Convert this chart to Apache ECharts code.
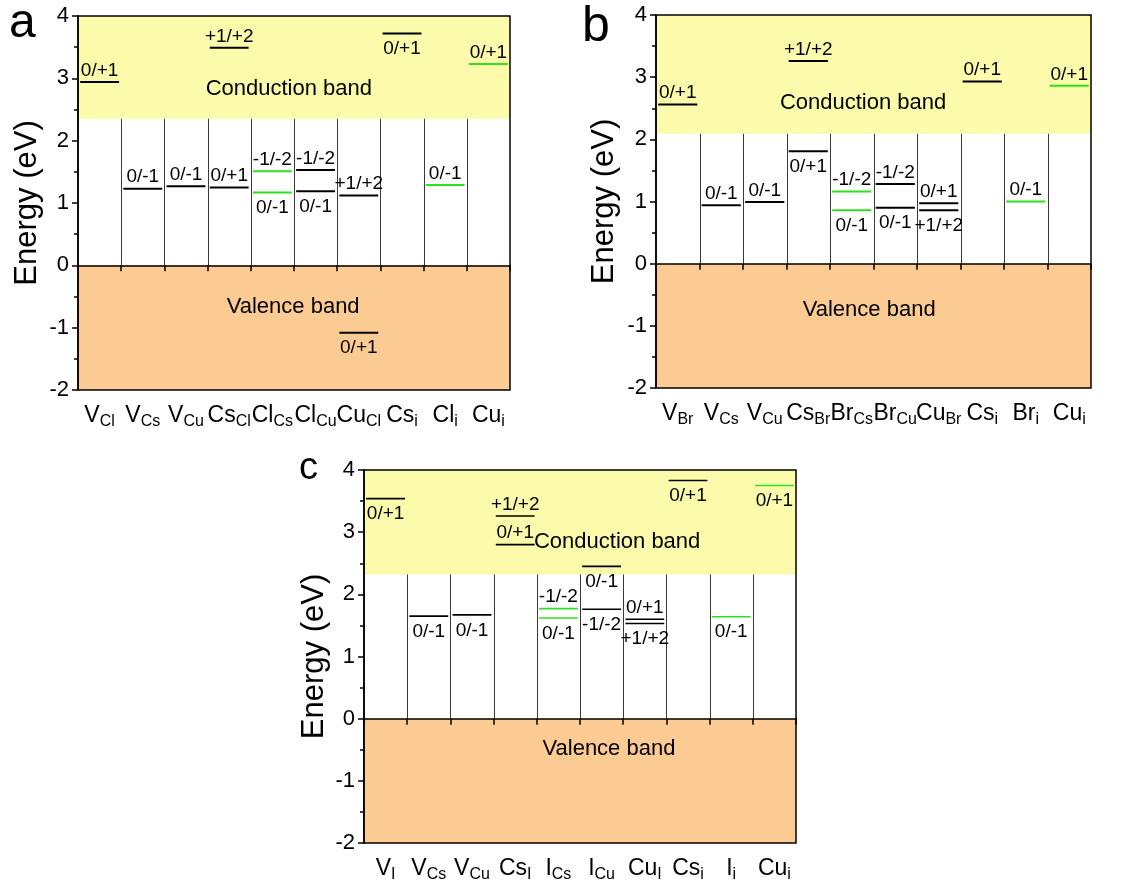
<!DOCTYPE html>
<html>
<head>
<meta charset="utf-8">
<script src="https://cdn.jsdelivr.net/npm/echarts@6/dist/echarts.min.js"></script>
<style>
  html, body { margin: 0; padding: 0; background: #fff; }
  #chart { width: 1127px; height: 886px; }
</style>
</head>
<body>
<div id="chart"></div>
<script>
// defect names: [main, subscript]
const defectsA = [['V', 'Cl'], ['V', 'Cs'], ['V', 'Cu'], ['Cs', 'Cl'], ['Cl', 'Cs'], ['Cl', 'Cu'], ['Cu', 'Cl'], ['Cs', 'i'], ['Cl', 'i'], ['Cu', 'i']]
const defectsB = [['V', 'Br'], ['V', 'Cs'], ['V', 'Cu'], ['Cs', 'Br'], ['Br', 'Cs'], ['Br', 'Cu'], ['Cu', 'Br'], ['Cs', 'i'], ['Br', 'i'], ['Cu', 'i']]
const defectsC = [['V', 'I'], ['V', 'Cs'], ['V', 'Cu'], ['Cs', 'I'], ['I', 'Cs'], ['I', 'Cu'], ['Cu', 'I'], ['Cs', 'i'], ['I', 'i'], ['Cu', 'i']]

// conduction band minimum (eV), valence band max is 0
const cbmA = 2.35
const cbmB = 2.09
const cbmC = 2.32

const yMin = -2
const yMax = 4

// transition levels: [column, energy, label, label side, green?]
const levelsA = [
  [0, 2.94, '0/+1', 'up', 0],
  [1, 1.23, '0/-1', 'up', 0],
  [2, 1.27, '0/-1', 'up', 0],
  [3, 1.25, '0/+1', 'up', 0],
  [3, 3.49, '+1/+2', 'up', 0],
  [4, 1.51, '-1/-2', 'up', 1],
  [4, 1.17, '0/-1', 'down', 1],
  [5, 1.53, '-1/-2', 'up', 0],
  [5, 1.19, '0/-1', 'down', 0],
  [6, 1.12, '+1/+2', 'up', 0],
  [6, -1.08, '0/+1', 'down', 0],
  [7, 3.72, '0/+1', 'down', 0],
  [8, 1.29, '0/-1', 'up', 1],
  [9, 3.23, '0/+1', 'up', 1]
]
const levelsB = [
  [0, 2.56, '0/+1', 'up', 0],
  [1, 0.94, '0/-1', 'up', 0],
  [2, 0.99, '0/-1', 'up', 0],
  [3, 3.26, '+1/+2', 'up', 0],
  [3, 1.81, '0/+1', 'down', 0],
  [4, 1.16, '-1/-2', 'up', 1],
  [4, 0.86, '0/-1', 'down', 1],
  [5, 1.28, '-1/-2', 'up', 0],
  [5, 0.90, '0/-1', 'down', 0],
  [6, 0.97, '0/+1', 'up', 0],
  [6, 0.86, '+1/+2', 'down', 0],
  [7, 2.93, '0/+1', 'up', 0],
  [8, 1.00, '0/-1', 'up', 1],
  [9, 2.86, '0/+1', 'up', 1]
]
const levelsC = [
  [0, 3.54, '0/+1', 'down', 0],
  [1, 1.65, '0/-1', 'down', 0],
  [2, 1.67, '0/-1', 'down', 0],
  [3, 3.26, '+1/+2', 'up', 0],
  [3, 2.80, '0/+1', 'up', 0],
  [4, 1.77, '-1/-2', 'up', 1],
  [4, 1.62, '0/-1', 'down', 1],
  [5, 2.45, '0/-1', 'down', 0],
  [5, 1.76, '-1/-2', 'down', 0],
  [6, 1.60, '0/+1', 'up', 0],
  [6, 1.53, '+1/+2', 'down', 0],
  [7, 3.83, '0/+1', 'down', 0],
  [8, 1.64, '0/-1', 'down', 1],
  [9, 3.75, '0/+1', 'down', 1]
]

// band captions: [column (fractional), energy, text]
const captionsA = [[4.38, 2.83, 'Conduction band'], [4.48, -0.66, 'Valence band']]
const captionsB = [[4.26, 2.59, 'Conduction band'], [4.40, -0.74, 'Valence band']]
const captionsC = [[5.36, 2.85, 'Conduction band'], [5.17, -0.49, 'Valence band']]

const FONT = '"Liberation Sans", Arial, sans-serif'
const CB_COLOR = '#FBFBAB'
const VB_COLOR = '#FCCB94'
const GREEN = '#2EE01E'

const panels = [
  { defects: defectsA, cbm: cbmA, levels: levelsA, captions: captionsA, grid: { left: 78, top: 16, width: 432, height: 374 }, nameGap: 35, lw: 2 },
  { defects: defectsB, cbm: cbmB, levels: levelsB, captions: captionsB, grid: { left: 656, top: 15, width: 435, height: 373 }, nameGap: 36, lw: 2 },
  { defects: defectsC, cbm: cbmC, levels: levelsC, captions: captionsC, grid: { left: 364, top: 470, width: 432, height: 373 }, nameGap: 34, lw: 1.6 }
]

const chart = echarts.init(document.getElementById('chart'), null, { renderer: 'canvas' })

const grids = []
const xAxes = []
const yAxes = []
const series = []

panels.forEach(function (p, i) {
  grids.push(Object.assign({
    show: true,
    borderColor: '#000',
    borderWidth: 1.5,
    backgroundColor: 'transparent',
    z: 10
  }, p.grid))

  xAxes.push({
    gridIndex: i,
    type: 'category',
    data: p.defects.map(function (d) { return '{m|' + d[0] + '}{s|' + d[1] + '}' }),
    z: 10,
    axisLine: { lineStyle: { color: '#000', width: 1.5 } },
    axisTick: { show: true, length: 6, lineStyle: { color: '#000', width: 1.5 } },
    axisLabel: {
      interval: 0,
      margin: 12,
      color: '#000',
      fontFamily: FONT,
      rich: {
        m: { fontSize: 23, fontFamily: FONT, color: '#000' },
        s: { fontSize: 16, fontFamily: FONT, color: '#000', padding: [12, 0, 0, 0] }
      }
    },
    splitLine: { show: false }
  })

  yAxes.push({
    gridIndex: i,
    type: 'value',
    min: yMin,
    max: yMax,
    interval: 1,
    z: 10,
    name: 'Energy (eV)',
    nameLocation: 'middle',
    nameGap: p.nameGap,
    nameTextStyle: { fontSize: 31, fontFamily: FONT, color: '#000' },
    axisLine: { show: true, lineStyle: { color: '#000', width: 1.5 } },
    axisTick: { show: true, length: 6, lineStyle: { color: '#000', width: 1.5 } },
    minorTick: { show: true, splitNumber: 2, length: 4, lineStyle: { color: '#000', width: 1.5 } },
    axisLabel: { fontSize: 22, fontFamily: FONT, color: '#000', margin: 9 },
    splitLine: { show: false }
  })

  // bands
  series.push({
    type: 'custom',
    xAxisIndex: i,
    yAxisIndex: i,
    z: 1,
    silent: true,
    encode: { x: 0, y: [1, 2] },
    data: [[0, p.cbm, yMax], [0, yMin, 0]],
    renderItem: function (params, api) {
      const cs = params.coordSys
      const y1 = api.coord([0, api.value(2)])[1]
      const y2 = api.coord([0, api.value(1)])[1]
      return {
        type: 'rect',
        shape: { x: cs.x, y: y1, width: cs.width, height: y2 - y1 },
        style: { fill: params.dataIndex === 0 ? CB_COLOR : VB_COLOR }
      }
    }
  })

  // column separators inside the gap
  series.push({
    type: 'custom',
    xAxisIndex: i,
    yAxisIndex: i,
    z: 2,
    silent: true,
    data: [1, 2, 3, 4, 5, 6, 7, 8, 9].map(function (c) { return [c, p.cbm] }),
    renderItem: function (params, api) {
      const top = api.coord([api.value(0), api.value(1)])
      const bot = api.coord([api.value(0), 0])
      const w = api.size([1, 0])[0]
      const x = Math.round(top[0] - w / 2) + 0.5
      return {
        type: 'line',
        shape: { x1: x, y1: top[1], x2: x, y2: bot[1] },
        style: { stroke: '#3a3a3a', lineWidth: 1 }
      }
    }
  })

  // transition levels
  const lv = p.levels
  series.push({
    type: 'custom',
    xAxisIndex: i,
    yAxisIndex: i,
    z: 3,
    silent: true,
    data: lv.map(function (l) { return [l[0], l[1]] }),
    renderItem: function (params, api) {
      const item = lv[params.dataIndex]
      const c = api.coord([api.value(0), api.value(1)])
      const w = api.size([1, 0])[0]
      const half = w * 0.45
      const up = item[3] === 'up'
      return {
        type: 'group',
        children: [{
          type: 'line',
          shape: { x1: c[0] - half, y1: c[1], x2: c[0] + half, y2: c[1] },
          style: { stroke: item[4] ? GREEN : '#000', lineWidth: p.lw }
        }, {
          type: 'text',
          style: {
            text: item[2],
            x: c[0],
            y: up ? c[1] - 2 : c[1] + 6,
            align: 'center',
            verticalAlign: up ? 'bottom' : 'top',
            fontSize: 19,
            fontFamily: FONT,
            fill: '#000'
          }
        }]
      }
    }
  })

  // band captions
  const cap = p.captions
  series.push({
    type: 'custom',
    xAxisIndex: i,
    yAxisIndex: i,
    z: 3,
    silent: true,
    data: cap.map(function (t) { return [0, t[1]] }),
    renderItem: function (params, api) {
      const item = cap[params.dataIndex]
      const c0 = api.coord([0, api.value(1)])
      const w = api.size([1, 0])[0]
      return {
        type: 'text',
        style: {
          text: item[2],
          x: c0[0] + item[0] * w,
          y: c0[1],
          align: 'center',
          verticalAlign: 'middle',
          fontSize: 22,
          fontFamily: FONT,
          fill: '#000'
        }
      }
    }
  })
})

chart.setOption({
  animation: false,
  backgroundColor: '#fff',
  grid: grids,
  xAxis: xAxes,
  yAxis: yAxes,
  series: series,
  graphic: [
    { type: 'text', left: 9, top: 0, style: { text: 'a', fontSize: 48, fontFamily: FONT, fill: '#000' } },
    { type: 'text', left: 582, top: 2, style: { text: 'b', fontSize: 50, fontFamily: FONT, fill: '#000' } },
    { type: 'text', left: 299, top: 450, style: { text: 'c', fontSize: 38, fontFamily: FONT, fill: '#000' } }
  ]
})
</script>
</body>
</html>
